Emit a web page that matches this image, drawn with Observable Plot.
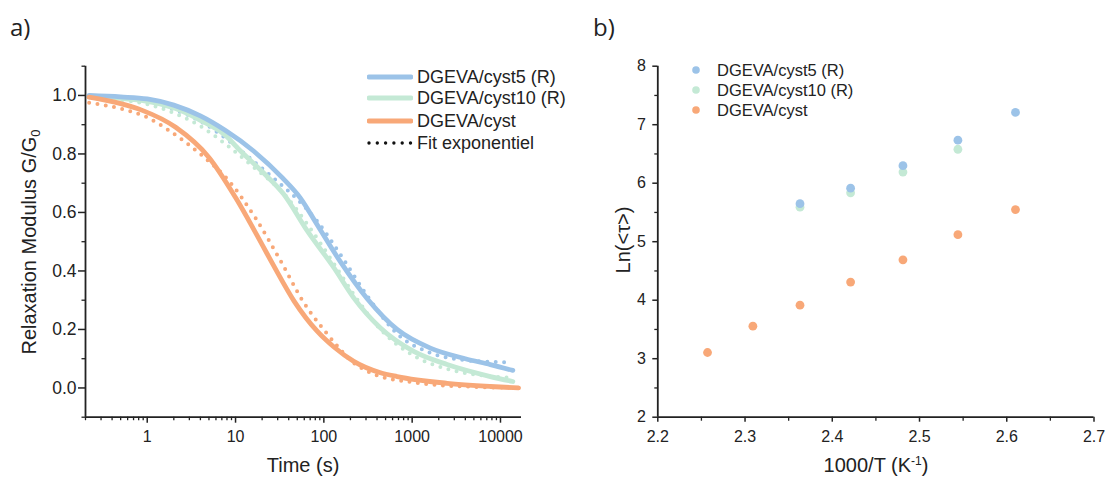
<!DOCTYPE html>
<html><head><meta charset="utf-8">
<script src="https://cdn.jsdelivr.net/npm/d3@7"></script>
<script src="https://cdn.jsdelivr.net/npm/@observablehq/plot@0.6"></script>
<style>
body{margin:0;background:#fff;width:1105px;height:477px;overflow:hidden;position:relative;font-family:'Liberation Sans',Arial,sans-serif;color:#222}
.abs{position:absolute;white-space:nowrap;line-height:1}
#left{position:absolute;left:0;top:0}
#right{position:absolute;left:560px;top:0}
</style></head><body>
<div id="left"></div><div id="right"></div>
<div id="overlay"></div>
<script>
// ---------- Panel a) data ----------
const tCyst5 = [0.22, 0.5, 1, 2, 4, 7.7, 16, 34, 54, 84, 155, 310, 676, 1610, 4000, 7690, 13800];
const gCyst5 = [1.0, 0.995, 0.988, 0.967, 0.93, 0.88, 0.81, 0.718, 0.65, 0.558, 0.43, 0.305, 0.2, 0.136, 0.1, 0.08, 0.06];
const tCyst10 = [0.22, 0.5, 1, 2.1, 4, 7.7, 11.4, 20, 35, 65, 130, 218, 438, 1042, 2490, 7690, 13800];
const gCyst10 = [0.995, 0.99, 0.98, 0.955, 0.915, 0.863, 0.81, 0.74, 0.663, 0.537, 0.411, 0.308, 0.205, 0.125, 0.08, 0.039, 0.022];
const tCyst = [0.22, 0.5, 0.88, 2.1, 5, 10, 20, 27, 46, 84, 130, 218, 438, 676, 2490, 7690, 16000];
const gCyst = [0.994, 0.972, 0.949, 0.891, 0.788, 0.651, 0.49, 0.418, 0.297, 0.194, 0.14, 0.091, 0.052, 0.039, 0.016, 0.005, 0.0];

const tFit5 = [0.22, 0.5, 1, 2, 4, 8, 16, 30, 50, 84, 155, 310, 676, 1610, 4000, 13000];
const gFit5 = [0.997, 0.99, 0.977, 0.952, 0.912, 0.85, 0.775, 0.705, 0.645, 0.57, 0.455, 0.315, 0.185, 0.12, 0.095, 0.087];
const tFit10 = [0.22, 0.5, 1, 2, 4, 8, 16, 35, 65, 130, 218, 438, 1042, 2490, 7690, 13000];
const gFit10 = [0.995, 0.985, 0.97, 0.94, 0.895, 0.83, 0.755, 0.665, 0.56, 0.425, 0.32, 0.2, 0.11, 0.065, 0.04, 0.035];
const tFit = [0.22, 0.5, 1, 1.77, 4.2, 8.4, 16.9, 33, 57, 103, 150, 200, 260, 438, 877, 1757, 5000, 16000];
const gFit = [0.975, 0.955, 0.925, 0.88, 0.794, 0.708, 0.58, 0.43, 0.3, 0.194, 0.135, 0.095, 0.07, 0.039, 0.022, 0.011, 0.004, 0.0];

const xMajorA = [1, 10, 100, 1000, 10000];
const xMinorA = [0.2,0.3,0.4,0.5,0.6,0.7,0.8,0.9, 2,3,4,5,6,7,8,9, 20,30,40,50,60,70,80,90,
  200,300,400,500,600,700,800,900, 2000,3000,4000,5000,6000,7000,8000,9000];
const yMajorA = [0, 0.2, 0.4, 0.6, 0.8, 1.0];
const yMinorA = [-0.1, 0.1, 0.3, 0.5, 0.7, 0.9, 1.1];

// ---------- Panel b) data ----------
const invT5 = [2.363, 2.421, 2.481, 2.544, 2.610];
const lnTau5 = [5.65, 5.915, 6.30, 6.735, 7.21];
const invT10 = [2.363, 2.421, 2.481, 2.544];
const lnTau10 = [5.59, 5.835, 6.19, 6.58];
const invT0 = [2.257, 2.309, 2.363, 2.421, 2.481, 2.544, 2.610];
const lnTau0 = [3.106, 3.556, 3.915, 4.31, 4.69, 5.12, 5.55];

const xMajorB = [2.2, 2.3, 2.4, 2.5, 2.6, 2.7];
const xMinorB = [2.25, 2.35, 2.45, 2.55, 2.65];
const yMajorB = [2, 3, 4, 5, 6, 7, 8];
const yMinorB = [2.5, 3.5, 4.5, 5.5, 6.5, 7.5];

const series = ["DGEVA/cyst5 (R)", "DGEVA/cyst10 (R)", "DGEVA/cyst"];
const colors = ["#9cc3e8", "#c4e9d5", "#f8a878"];
const fitLabel = "Fit exponentiel";

const zip = (xs, ys) => xs.map((x, i) => ({x, y: ys[i]}));
const ink = "#222";
const style = {fontSize: "16px", fontFamily: "'Liberation Sans', Arial, sans-serif", color: ink, background: "transparent", overflow: "visible"};

// ---------- Panel a) ----------
const solid = {strokeWidth: 4.8, curve: "monotone-x", strokeLinecap: "round"};
const dotted = {strokeWidth: 4, curve: "monotone-x", strokeDasharray: "0 8.4", strokeLinecap: "round"};
const plotA = Plot.plot({
  width: 560, height: 477,
  marginLeft: 85, marginRight: 39, marginTop: 65.7, marginBottom: 60.3,
  style,
  x: {type: "log", domain: [0.2, 17300]},
  y: {domain: [-0.1, 1.1]},
  marks: [
    Plot.line(zip(tFit5, gFit5), {x: "x", y: "y", stroke: colors[0], ...dotted}),
    Plot.line(zip(tFit10, gFit10), {x: "x", y: "y", stroke: colors[1], ...dotted}),
    Plot.line(zip(tFit, gFit), {x: "x", y: "y", stroke: colors[2], ...dotted}),
    Plot.line(zip(tCyst10, gCyst10), {x: "x", y: "y", stroke: colors[1], ...solid}),
    Plot.line(zip(tCyst5, gCyst5), {x: "x", y: "y", stroke: colors[0], ...solid}),
    Plot.line(zip(tCyst, gCyst), {x: "x", y: "y", stroke: colors[2], ...solid}),
    Plot.axisX(xMajorA, {tickSize: 6, tickPadding: 7, tickFormat: d => String(d), label: null, stroke: ink, fill: ink, strokeWidth: 1.5}),
    Plot.axisX(xMinorA, {tickSize: 3.5, tickFormat: () => "", label: null, stroke: ink, strokeWidth: 1.3}),
    Plot.axisY(yMajorA, {tickSize: 7, tickPadding: 2, fontSize: 17.5, tickFormat: d3.format(".1f"), label: null, stroke: ink, fill: ink, strokeWidth: 1.5}),
    Plot.axisY(yMinorA, {tickSize: 3.5, tickFormat: () => "", label: null, stroke: ink, strokeWidth: 1.3}),
    Plot.ruleY([-0.1], {stroke: ink, strokeWidth: 1.8}),
    Plot.ruleX([0.2], {stroke: ink, strokeWidth: 1.8})
  ]
});
document.getElementById("left").append(plotA);

// ---------- Panel b) ----------
const plotB = Plot.plot({
  width: 545, height: 477,
  marginLeft: 97.3, marginRight: 11.5, marginTop: 65.7, marginBottom: 60.3,
  style,
  x: {domain: [2.2, 2.7]},
  y: {domain: [2, 8]},
  marks: [
    Plot.dot(zip(invT0, lnTau0), {x: "x", y: "y", r: 4.4, fill: colors[2]}),
    Plot.dot(zip(invT10, lnTau10), {x: "x", y: "y", r: 4.4, fill: colors[1]}),
    Plot.dot(zip(invT5, lnTau5), {x: "x", y: "y", r: 4.4, fill: colors[0]}),
    Plot.axisX(xMajorB, {tickSize: 5, tickPadding: 8, tickFormat: d3.format(".1f"), label: null, stroke: ink, fill: ink, strokeWidth: 1.5}),
    Plot.axisX(xMinorB, {tickSize: 4, tickFormat: () => "", label: null, stroke: ink, strokeWidth: 1.3}),
    Plot.axisY(yMajorB, {tickSize: 5, tickPadding: 7, tickFormat: d => String(d), label: null, stroke: ink, fill: ink, strokeWidth: 1.5}),
    Plot.axisY(yMinorB, {tickSize: 3, tickFormat: () => "", label: null, stroke: ink, strokeWidth: 1.3}),
    Plot.ruleY([2], {stroke: ink, strokeWidth: 1.8}),
    Plot.ruleX([2.2], {stroke: ink, strokeWidth: 1.8})
  ]
});
document.getElementById("right").append(plotB);

// ---------- Text overlays & legends ----------
const ov = document.getElementById("overlay");
function addDiv(html, css) {
  const d = document.createElement("div");
  d.className = "abs";
  d.innerHTML = html;
  Object.assign(d.style, css);
  ov.append(d);
  return d;
}
addDiv("a)", {left: "10px", top: "15px", fontSize: "24px", fontFamily: "'Open Sans', sans-serif"});
addDiv("b)", {left: "593px", top: "15px", fontSize: "24px", fontFamily: "'Open Sans', sans-serif"});
addDiv("Time (s)", {left: "303px", top: "455px", fontSize: "20px", transform: "translateX(-50%)"});
addDiv("1000/T (K<sup style='font-size:12px;vertical-align:7px'>-1</sup>)", {left: "876px", top: "455px", fontSize: "20px", transform: "translateX(-50%)"});
addDiv("Relaxation Modulus G/G<sub style='font-size:13px;vertical-align:-4px'>0</sub>", {left: "30px", top: "241.7px", fontSize: "20px", transform: "translate(-50%,-50%) rotate(-90deg)"});
addDiv("Ln(&lt;τ&gt;)", {left: "623px", top: "240px", fontSize: "20px", transform: "translate(-50%,-50%) rotate(-90deg)"});

// left legend
const legA = [76.7, 98.3, 121, 143.3];
series.forEach((s, i) => {
  addDiv(`<svg width="46" height="8" style="display:block"><line x1="2" y1="4" x2="44" y2="4" stroke="${colors[i]}" stroke-width="4.8" stroke-linecap="round"/></svg>`,
    {left: "367px", top: (legA[i] - 4) + "px"});
  addDiv(s, {left: "417px", top: legA[i] + "px", fontSize: "18px", transform: "translateY(-50%)"});
});
addDiv(`<svg width="46" height="8" style="display:block"><line x1="2" y1="4" x2="44" y2="4" stroke="#111" stroke-width="3.4" stroke-dasharray="0 8.3" stroke-linecap="round"/></svg>`,
  {left: "367px", top: (legA[3] - 4) + "px"});
addDiv(fitLabel, {left: "417px", top: legA[3] + "px", fontSize: "18px", transform: "translateY(-50%)"});

// right legend
const legB = [70, 90, 110];
series.forEach((s, i) => {
  addDiv(`<svg width="10" height="10" style="display:block"><circle cx="5" cy="5" r="3.8" fill="${colors[i]}"/></svg>`,
    {left: "691px", top: (legB[i] - 5) + "px"});
  addDiv(s, {left: "717px", top: legB[i] + "px", fontSize: "16.5px", transform: "translateY(-50%)"});
});
</script>
</body></html>
